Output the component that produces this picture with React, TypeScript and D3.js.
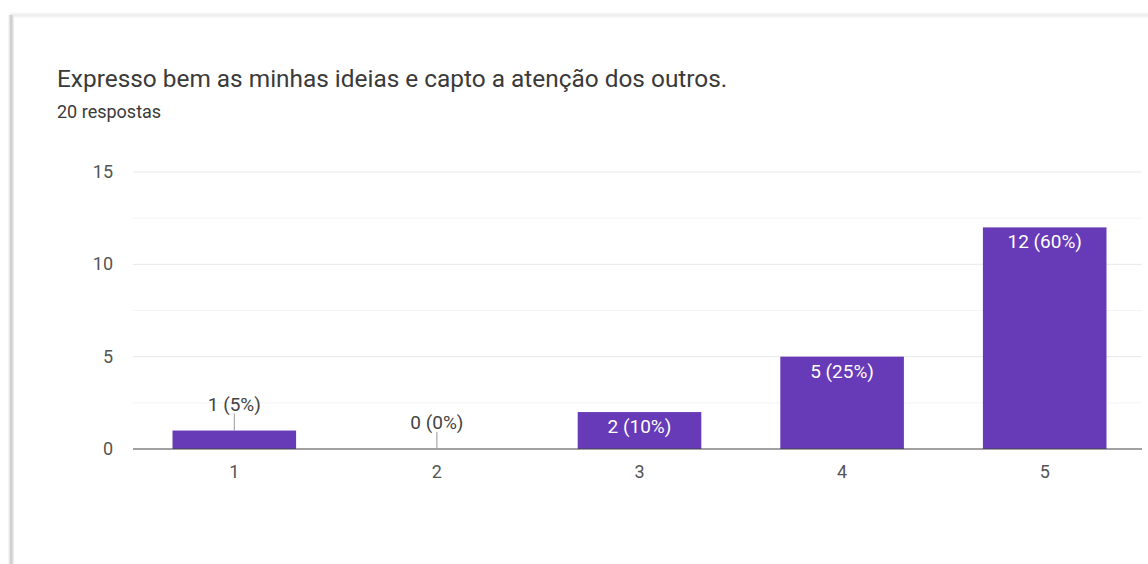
import React from "react";
import * as d3 from "d3";

const categories = ["1", "2", "3", "4", "5"];
const counts = [1, 0, 2, 5, 12];
const percents = ["5%", "0%", "10%", "25%", "60%"];
const yTicks = [0, 5, 10, 15];
const minorTicks = [2.5, 7.5, 12.5];
const title = "Expresso bem as minhas ideias e capto a atenção dos outros.";
const subtitle = "20 respostas";

const W = 1148;
const H = 564;
const FONT = "Roboto, 'Noto Sans', Arial, sans-serif";
const PURPLE = "#673ab7";

export default function App() {
  const x = d3
    .scaleBand<string>()
    .domain(categories)
    .range([133, 1146])
    .paddingInner(0.39)
    .paddingOuter(0.195);
  const y = d3.scaleLinear().domain([0, 15]).range([449, 172]);
  const gridRight = 1142;
  const plotLeft = 133;
  const labelThreshold = 1.5;

  return (
    <svg
      width={W}
      height={H}
      style={{ position: "absolute", left: 0, top: 0, background: "#fff" }}
      fontFamily={FONT}
    >
      <defs>
        <linearGradient id="topShadow" x1="0" y1="0" x2="0" y2="1">
          <stop offset="0" stopColor="#ffffff" />
          <stop offset="0.5" stopColor="#ececec" />
          <stop offset="1" stopColor="#fafafa" />
        </linearGradient>
        <linearGradient id="leftShadow" x1="0" y1="0" x2="1" y2="0">
          <stop offset="0" stopColor="#ffffff" />
          <stop offset="0.5" stopColor="#c8c8c8" />
          <stop offset="1" stopColor="#f2f2f2" />
        </linearGradient>
      </defs>
      <rect x={0} y={0} width={W} height={H} fill="#fff" />
      {/* card edges */}
      <rect x={10} y={12} width={W - 10} height={6} fill="url(#topShadow)" />
      <rect x={8} y={15} width={6} height={H - 15} fill="url(#leftShadow)" />

      <text x={57} y={87} fontSize={24.4} fill="#3a3a3a">
        {title}
      </text>
      <text x={57} y={118} fontSize={18} fill="#3a3a3a">
        {subtitle}
      </text>

      {/* minor grid */}
      {minorTicks.map((t) => (
        <line key={"m" + t} x1={plotLeft} x2={gridRight} y1={y(t)} y2={y(t)} stroke="#f4f4f4" strokeWidth={1} />
      ))}
      {/* major grid */}
      {yTicks.filter((t) => t > 0).map((t) => (
        <line key={"g" + t} x1={plotLeft} x2={gridRight} y1={y(t)} y2={y(t)} stroke="#e8e8e8" strokeWidth={1} />
      ))}
      {yTicks.map((t) => (
        <text key={"t" + t} x={113} y={y(t) + 6} fontSize={18} fill="#555" textAnchor="end">
          {t}
        </text>
      ))}

      {/* bars */}
      {categories.map((c, i) => (
        <rect
          key={"b" + c}
          x={x(c)}
          y={y(counts[i])}
          width={x.bandwidth()}
          height={y(0) - y(counts[i])}
          fill={PURPLE}
        />
      ))}

      {/* baseline */}
      <line x1={plotLeft} x2={gridRight} y1={y(0)} y2={y(0)} stroke="#444" strokeWidth={1.2} />

      {/* value labels */}
      {categories.map((c, i) => {
        const cx = (x(c) as number) + x.bandwidth() / 2;
        const top = y(counts[i]);
        const label = `${counts[i]} (${percents[i]})`;
        if (counts[i] >= labelThreshold) {
          return (
            <text key={"l" + c} x={cx} y={top + 21} fontSize={19} fill="#fff" textAnchor="middle">
              {label}
            </text>
          );
        }
        return (
          <g key={"l" + c}>
            <line x1={cx} x2={cx} y1={top - 17} y2={top} stroke="#999" strokeWidth={1} />
            <text x={cx} y={top - 20} fontSize={19} fill="#444" textAnchor="middle">
              {label}
            </text>
          </g>
        );
      })}

      {/* x labels */}
      {categories.map((c) => (
        <text
          key={"x" + c}
          x={(x(c) as number) + x.bandwidth() / 2}
          y={478}
          fontSize={18}
          fill="#555"
          textAnchor="middle"
        >
          {c}
        </text>
      ))}
    </svg>
  );
}
